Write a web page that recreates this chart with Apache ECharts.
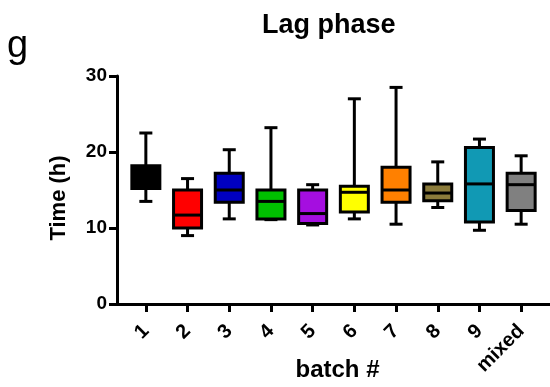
<!DOCTYPE html>
<html>
<head>
<meta charset="utf-8">
<script src="https://cdn.jsdelivr.net/npm/echarts@6/dist/echarts.min.js"></script>
<style>html,body{margin:0;padding:0;background:#fff}#c{width:550px;height:387px}</style>
</head>
<body>
<div id="c"></div>
<script>
const categories = ['1','2','3','4','5','6','7','8','9','mixed'];
const mins    = [13.5,  9.0, 11.2, 11.1, 10.4, 11.2, 10.5, 12.7,  9.7, 10.5];
const q1s     = [15.2, 10.0, 13.4, 11.2, 10.6, 12.1, 13.4, 13.6, 10.8, 12.3];
const medians = [16.5, 11.7, 15.0, 13.5, 11.9, 14.7, 15.0, 14.6, 15.8, 15.7];
const q3s     = [18.2, 15.0, 17.2, 15.0, 15.0, 15.5, 18.0, 15.8, 20.6, 17.2];
const maxs    = [22.5, 16.5, 20.3, 23.2, 15.7, 27.0, 28.5, 18.7, 21.7, 19.5];
const yTicks  = [0, 10, 20, 30];
const colors  = ['#000000','#ff0000','#0000c0','#00c000','#a50ee0','#ffff00','#ff8000','#8b7b3b','#1199b4','#808080'];

const FONT = '"Liberation Sans", Arial, Helvetica, sans-serif';
const data = categories.map((c, i) => [i, mins[i], q1s[i], medians[i], q3s[i], maxs[i]]);

const chart = echarts.init(document.getElementById('c'), null, {renderer: 'canvas'});
chart.setOption({
  animation: false,
  backgroundColor: '#ffffff',
  title: [
    {text: 'Lag phase', left: 262, top: 12, padding: 0,
     textStyle: {fontFamily: FONT, fontSize: 27, fontWeight: 'bold', color: '#000'}},
    {text: 'g', left: 7, top: 28, padding: 0,
     textStyle: {fontFamily: FONT, fontSize: 38, fontWeight: 'normal', color: '#000'}}
  ],
  grid: [
    {left: 125, right: 8, top: 76, bottom: 83, containLabel: false, outerBoundsMode: 'none'},
    {left: 117, right: 0, top: 76, bottom: 83, containLabel: false, outerBoundsMode: 'none'}
  ],
  xAxis: [
    {type: 'category', gridIndex: 0, data: categories,
     name: 'batch #', nameLocation: 'middle', nameGap: 54, nameMoveOverlap: false,
     nameTextStyle: {fontFamily: FONT, fontSize: 24, fontWeight: 'bold', color: '#000', padding: [0,0,0,8]},
     axisLine: {show: false},
     axisTick: {show: true, alignWithLabel: true, length: 8, lineStyle: {color: '#000', width: 3}},
     axisLabel: {rotate: 45, margin: 24, fontFamily: FONT, fontSize: 20, fontWeight: 'bold', color: '#000'},
     splitLine: {show: false}},
    {type: 'value', gridIndex: 1, min: 0, max: 1,
     axisLine: {show: true, onZero: false, lineStyle: {color: '#000', width: 3}},
     axisTick: {show: false}, axisLabel: {show: false}, splitLine: {show: false}}
  ],
  yAxis: [
    {type: 'value', gridIndex: 0, min: yTicks[0], max: yTicks[yTicks.length-1], interval: 10, offset: 8,
     name: 'Time (h)', nameLocation: 'middle', nameGap: 47, nameRotate: 90, nameMoveOverlap: false,
     nameTextStyle: {fontFamily: FONT, fontSize: 22, fontWeight: 'bold', color: '#000', padding: [0,16,0,0]},
     axisLine: {show: true, lineStyle: {color: '#000', width: 3}},
     axisTick: {show: true, length: 8, lineStyle: {color: '#000', width: 3}},
     axisLabel: {margin: 10, fontFamily: FONT, fontSize: 19, fontWeight: 'bold', color: '#000'},
     splitLine: {show: false}},
    {type: 'value', gridIndex: 1, min: 0, max: 1, show: false}
  ],
  series: [{
    type: 'custom',
    xAxisIndex: 0, yAxisIndex: 0,
    data: data,
    encode: {x: 0, y: [1, 2, 3, 4, 5]},
    clip: false,
    renderItem: function (params, api) {
      const x = api.value(0);
      const lo = api.coord([x, api.value(1)]);
      const q1 = api.coord([x, api.value(2)]);
      const med = api.coord([x, api.value(3)]);
      const q3 = api.coord([x, api.value(4)]);
      const hi = api.coord([x, api.value(5)]);
      const cx = lo[0];
      const bw = 28, cw = 13;
      const ls = {stroke: '#000', lineWidth: 3};
      return {
        type: 'group',
        children: [
          {type: 'line', shape: {x1: cx, y1: hi[1], x2: cx, y2: q3[1]}, style: ls},
          {type: 'line', shape: {x1: cx, y1: q1[1], x2: cx, y2: lo[1]}, style: ls},
          {type: 'line', shape: {x1: cx - cw/2, y1: hi[1], x2: cx + cw/2, y2: hi[1]}, style: ls},
          {type: 'line', shape: {x1: cx - cw/2, y1: lo[1], x2: cx + cw/2, y2: lo[1]}, style: ls},
          {type: 'rect', shape: {x: cx - bw/2, y: q3[1], width: bw, height: q1[1] - q3[1]},
           style: {fill: colors[params.dataIndex], stroke: '#000', lineWidth: 3}},
          {type: 'line', shape: {x1: cx - bw/2, y1: med[1], x2: cx + bw/2, y2: med[1]}, style: ls}
        ]
      };
    }
  }]
});
</script>
</body>
</html>
